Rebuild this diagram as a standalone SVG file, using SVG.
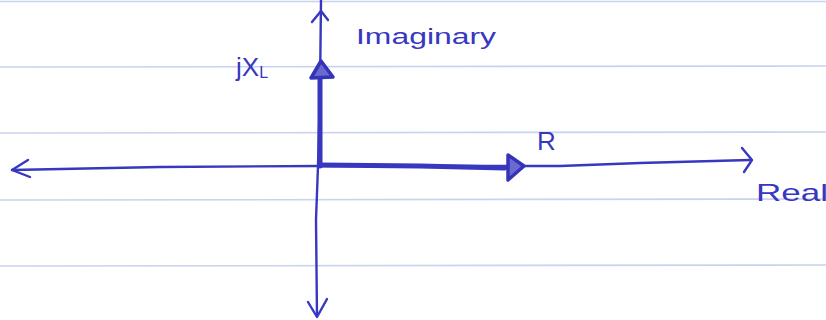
<svg xmlns="http://www.w3.org/2000/svg" width="826" height="320" viewBox="0 0 826 320">
<style>
.paper{stroke:#c9d2ee;stroke-width:1.6;fill:none}
.ink{stroke:#3737c0;fill:none;stroke-linecap:round;stroke-linejoin:round}
.axis{stroke-width:2.4}
.vec{stroke-width:5}
.head{stroke:#3434b8;stroke-width:3.5;fill:#6a6ad0;stroke-linejoin:round}
.lbl{font-family:"Liberation Sans",Arial,sans-serif;fill:#3737c0;font-weight:300}
</style>
<rect width="826" height="320" fill="#ffffff"/>
<g id="paper">
<line class="paper" x1="0" y1="1.5" x2="826" y2="1.5"/>
<line class="paper" x1="0" y1="67" x2="826" y2="66"/>
<line class="paper" x1="0" y1="133" x2="826" y2="132"/>
<line class="paper" x1="0" y1="200" x2="826" y2="199"/>
<line class="paper" x1="0" y1="266" x2="826" y2="265"/>
</g>
<g id="connectors">
<path class="ink axis" d="M12 170 L160 167 L320 166 L560 166 L640 163 L750 160"/>
<path class="ink axis" d="M28 160 L12 170 L30 177"/>
<path class="ink axis" d="M742 148 L752 160 L744 172"/>
<path class="ink axis" d="M321 0 L320 90 L318 166 L316 220 L317 316"/>
<path class="ink axis" d="M312 22 L321 11 L328 20"/>
<path class="ink axis" d="M308 302 L317 317 L327 299"/>
<path class="ink vec" d="M320 166 L320 74"/>
<path class="head" d="M311 78 L321 61 L333 77 Z"/>
<path class="ink vec" d="M320 165 L420 166 L505 168"/>
<path class="head" d="M508 155 L524 166 L508 180 Z"/>
</g>
<g id="label-imaginary"><text class="lbl" x="356" y="44" font-size="22" textLength="140" lengthAdjust="spacingAndGlyphs">Imaginary</text></g>
<g id="label-jxl"><text class="lbl" x="236" y="76" font-size="26">jX<tspan font-size="16" dy="2">L</tspan></text></g>
<g id="label-r"><text class="lbl" x="537" y="150" font-size="26">R</text></g>
<g id="label-real"><text class="lbl" x="756" y="201" font-size="24" textLength="72" lengthAdjust="spacingAndGlyphs">Real</text></g>
</svg>
